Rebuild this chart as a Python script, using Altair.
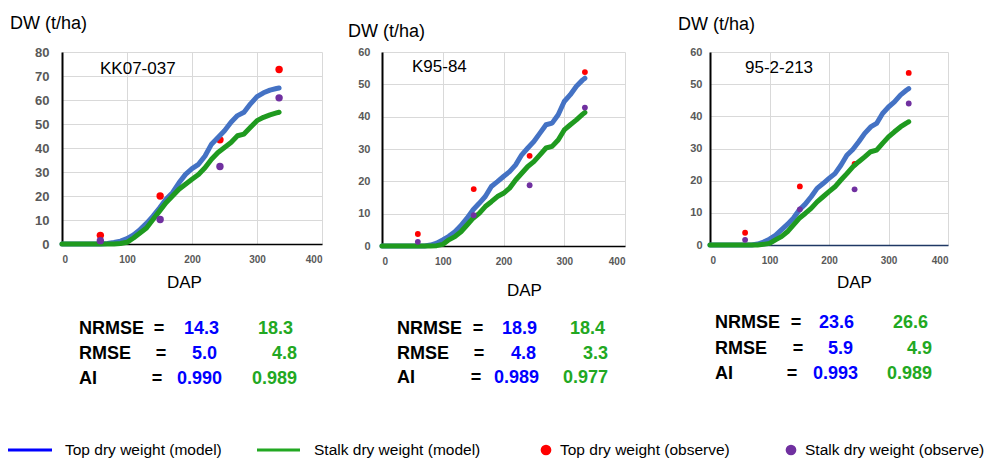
import altair as alt
import pandas as pd

# ---------------- data ----------------
days = [0, 10, 20, 30, 40, 50, 60, 70, 80, 90, 100, 110, 120, 130, 140, 150, 160, 170,
        180, 190, 200, 210, 220, 230, 240, 250, 260, 270, 280, 290, 300, 310, 320, 330, 334]

kk_top = [0, 0, 0, 0, 0, 0, 0, 0.2, 0.6, 1.2, 2.2, 3.8, 6.0, 8.6, 11.6, 15.0, 18.6, 21.4,
          25.5, 29.0, 31.4, 33.2, 36.7, 41.6, 44.4, 47.2, 50.7, 53.5, 54.9, 58.4, 61.4, 63.0, 64.1, 64.8, 65.0]
kk_stalk = [0, 0, 0, 0, 0, 0, 0, 0, 0, 0.2, 0.7, 2.5, 4.6, 6.7, 10.2, 13.7, 17.2, 20.0,
            22.8, 24.9, 27.0, 29.0, 31.8, 35.3, 38.1, 40.2, 42.3, 45.1, 45.8, 48.6, 51.4, 52.8, 53.8, 54.6, 54.9]

k95_top = [0, 0, 0, 0, 0, 0, 0, 0, 0.3, 0.9, 1.9, 3.0, 4.4, 6.3, 8.6, 11.2, 13.2, 15.3,
           18.4, 19.9, 21.5, 23.0, 25.1, 28.2, 30.3, 32.3, 34.9, 37.5, 38.0, 40.6, 44.7, 46.8, 49.4, 51.3, 51.9]
k95_stalk = [0, 0, 0, 0, 0, 0, 0, 0, 0, 0.1, 0.5, 1.9, 2.9, 4.4, 6.5, 8.6, 10.1, 12.2,
             13.7, 15.3, 16.3, 17.9, 20.4, 22.5, 24.6, 26.1, 28.2, 30.3, 30.8, 32.8, 35.9, 37.5, 39.0, 40.7, 41.3]

p95_top = [0, 0, 0, 0, 0, 0, 0, 0, 0.3, 0.9, 1.8, 3.0, 4.7, 6.4, 8.3, 10.9, 12.7, 15.0,
           17.6, 19.1, 20.7, 22.2, 24.8, 27.9, 29.7, 32.1, 34.7, 36.7, 37.8, 40.9, 42.9, 44.5, 46.6, 48.1, 48.6]
p95_stalk = [0, 0, 0, 0, 0, 0, 0, 0, 0, 0.2, 0.5, 1.6, 2.6, 4.1, 6.2, 8.3, 9.8, 11.4,
             13.4, 15.0, 16.6, 18.1, 20.2, 22.2, 24.3, 25.9, 27.4, 29.0, 29.5, 31.6, 33.6, 35.2, 36.7, 37.9, 38.3]

obs_days = [59, 151, 243, 334]
kk_obs_top = [3.6, 20.0, 43.4, 72.7]
kk_obs_stalk = [1.4, 10.2, 32.3, 60.9]
k95_obs_top = [3.7, 17.6, 27.9, 53.8]
k95_obs_stalk = [1.3, 9.5, 18.8, 42.8]
p95_obs_top = [3.8, 18.2, 25.2, 53.5]
p95_obs_stalk = [1.6, 11.1, 17.3, 44.0]

varieties = ["KK07-037", "K95-84", "95-2-213"]
y_max = [80, 60, 60]

nrmse_top = ["14.3", "18.9", "23.6"]
nrmse_stalk = ["18.3", "18.4", "26.6"]
rmse_top = ["5.0", "4.8", "5.9"]
rmse_stalk = ["4.8", "3.3", "4.9"]
ai_top = ["0.990", "0.989", "0.993"]
ai_stalk = ["0.989", "0.977", "0.989"]

legend_labels = ["Top dry weight (model)", "Stalk dry weight (model)",
                 "Top dry weight (observe)", "Stalk dry weight (observe)"]

# ---------------- style / layout ----------------
BLUE_LINE = "#4472C4"
GREEN_LINE = "#1F9A1F"
RED = "#FF0000"
PURPLE = "#7030A0"
TXT_BLUE = "#0000FF"
TXT_GREEN = "#22A822"
FONT = "Liberation Sans"

ORIGINS = [(62, 52), (382, 52), (710, 52)]
SIZES = [(260, 192), (243, 194), (238, 193)]
SPACERS = [60, 85]

YLAB_SIZE = [13, 11, 11]
YLAB_PAD = [13, 12, 8]
XDOMAIN_COLOR = ["#000000", "#000000", "#1F3864"]
DOT_SIZE = [55, 34, 34]

DW_POS = [(10, 24), (348, 32), (678, 25)]
NAME_POS = [(100, 69), (412, 67), (745, 68)]
DAP_POS = [(167, 283), (507, 291), (837, 283)]

ROW_Y = [[329, 354, 379], [329, 354, 378], [323, 349, 374]]
EQ_X = [[159, 161, 157], [478, 479, 476], [796, 798, 792]]
BLUE_R = [[219, 217, 222], [537, 536, 539], [854, 853, 858]]
GREEN_R = [[293, 297, 297], [605, 608, 608], [928, 932, 932]]
LABEL_X = [79, 397, 715]


def txt(s, x, y, size, color="black", weight="normal", align="left"):
    return alt.Chart(pd.DataFrame({"t": [s]})).mark_text(
        font=FONT, fontSize=size, color=color, fontWeight=weight,
        align=align, baseline="middle"
    ).encode(text="t:N", x=alt.value(x), y=alt.value(y))


def panel(i, top, stalk, otop, ostalk):
    x0, y0 = ORIGINS[i]
    w, h = SIZES[i]
    ymax = y_max[i]

    xenc = alt.X("DAP:Q", scale=alt.Scale(domain=[0, 400], nice=False),
                 axis=alt.Axis(values=[0, 100, 200, 300, 400], title=None, grid=True,
                               gridColor="#D9D9D9", domainColor=XDOMAIN_COLOR[i], domainWidth=1.5,
                               ticks=False, tickSize=0, labelPadding=10, labelFont=FONT,
                               labelFontSize=10, labelFontWeight="bold", labelColor="#595959"))
    yenc = alt.Y("DW:Q", scale=alt.Scale(domain=[0, ymax], nice=False),
                 axis=alt.Axis(values=list(range(0, ymax + 1, 10)), title=None, grid=True,
                               gridColor="#D9D9D9", domainColor="#000000", domainWidth=2,
                               ticks=False, tickSize=0, labelPadding=YLAB_PAD[i], labelFont=FONT,
                               labelFontSize=YLAB_SIZE[i], labelFontWeight="bold",
                               labelColor="#595959"))

    df_top = pd.DataFrame({"DAP": days, "DW": top})
    df_stalk = pd.DataFrame({"DAP": days, "DW": stalk})
    df_otop = pd.DataFrame({"DAP": obs_days, "DW": otop})
    df_ostalk = pd.DataFrame({"DAP": obs_days, "DW": ostalk})

    red_pts = alt.Chart(df_otop).mark_circle(color=RED, size=DOT_SIZE[i], opacity=1).encode(x=xenc, y=yenc)
    top_line = alt.Chart(df_top).mark_line(color=BLUE_LINE, strokeWidth=5, strokeCap="round",
                                           strokeJoin="round").encode(x=xenc, y=yenc)
    stalk_line = alt.Chart(df_stalk).mark_line(color=GREEN_LINE, strokeWidth=5, strokeCap="round",
                                               strokeJoin="round").encode(x=xenc, y=yenc)
    pur_pts = alt.Chart(df_ostalk).mark_circle(color=PURPLE, size=DOT_SIZE[i], opacity=1).encode(x=xenc, y=yenc)

    layers = [red_pts, top_line, stalk_line, pur_pts]

    def rel(x, y):
        return x - x0, y - y0

    # titles
    layers.append(txt("DW (t/ha)", *rel(*DW_POS[i]), 18))
    layers.append(txt(varieties[i], *rel(*NAME_POS[i]), 17))
    layers.append(txt("DAP", *rel(*DAP_POS[i]), 17))

    # statistics
    rows = [("NRMSE", nrmse_top[i], nrmse_stalk[i]),
            ("RMSE", rmse_top[i], rmse_stalk[i]),
            ("AI", ai_top[i], ai_stalk[i])]
    for r, (lab, vb, vg) in enumerate(rows):
        yy = ROW_Y[i][r]
        layers.append(txt(lab, *rel(LABEL_X[i], yy), 18, weight="bold"))
        layers.append(txt("=", *rel(EQ_X[i][r], yy), 18, weight="bold", align="center"))
        layers.append(txt(vb, *rel(BLUE_R[i][r], yy), 18, color=TXT_BLUE, weight="bold", align="right"))
        layers.append(txt(vg, *rel(GREEN_R[i][r], yy), 18, color=TXT_GREEN, weight="bold", align="right"))

    if i == 0:
        # invisible anchor at the page's top-left corner
        layers.append(alt.Chart(pd.DataFrame({"a": [0]})).mark_rect(opacity=0).encode(
            x=alt.value(-x0), x2=alt.value(-x0 + 2), y=alt.value(-y0), y2=alt.value(-y0 + 2)))
        # legend
        ly = 450
        layers.append(alt.Chart(pd.DataFrame({"a": [0]})).mark_rule(color="#0000FF", strokeWidth=3).encode(
            x=alt.value(8 - x0), x2=alt.value(52 - x0), y=alt.value(ly - y0)))
        layers.append(txt(legend_labels[0], 65 - x0, ly - y0, 15.5))
        layers.append(alt.Chart(pd.DataFrame({"a": [0]})).mark_rule(color="#22A822", strokeWidth=3).encode(
            x=alt.value(257 - x0), x2=alt.value(300 - x0), y=alt.value(ly - y0)))
        layers.append(txt(legend_labels[1], 314 - x0, ly - y0, 15.5))
        layers.append(alt.Chart(pd.DataFrame({"a": [0]})).mark_point(
            shape="circle", filled=True, color=RED, size=115, opacity=1).encode(
            x=alt.value(546 - x0), y=alt.value(ly - y0)))
        layers.append(txt(legend_labels[2], 560 - x0, ly - y0, 15.5))
        layers.append(alt.Chart(pd.DataFrame({"a": [0]})).mark_point(
            shape="circle", filled=True, color=PURPLE, size=115, opacity=1).encode(
            x=alt.value(791 - x0), y=alt.value(ly - y0)))
        layers.append(txt(legend_labels[3], 805 - x0, ly - y0, 15.5))

    return alt.layer(*layers).properties(width=w, height=h)


def spacer(wd):
    return alt.Chart(pd.DataFrame({"a": [0]})).mark_rect(opacity=0).encode(
        x=alt.value(0), x2=alt.value(1), y=alt.value(0), y2=alt.value(1)
    ).properties(width=wd, height=10)


p1 = panel(0, kk_top, kk_stalk, kk_obs_top, kk_obs_stalk)
p2 = panel(1, k95_top, k95_stalk, k95_obs_top, k95_obs_stalk)
p3 = panel(2, p95_top, p95_stalk, p95_obs_top, p95_obs_stalk)

chart = alt.HConcatChart(
    hconcat=[p1, spacer(SPACERS[0]), p2, spacer(SPACERS[1]), p3],
    spacing=0, bounds="flush",
    padding={"left": 0, "top": 0, "right": 0, "bottom": 0},
    autosize=alt.AutoSizeParams(type="pad"),
    background="white",
).configure_view(stroke=None)

chart.save("out.html", embed_options={"renderer": "svg", "actions": False})
